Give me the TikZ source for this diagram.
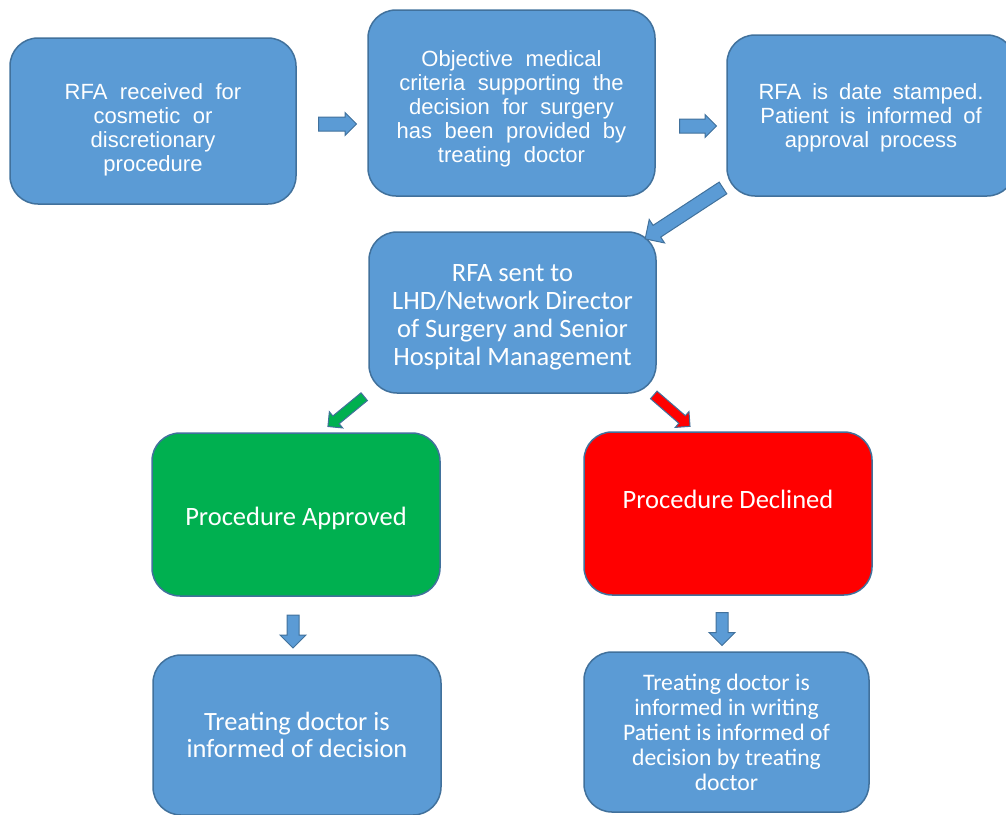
\documentclass[tikz,border=0pt]{standalone}
\usepackage{fontspec}
\setmainfont{Liberation Sans}
\newfontfamily\calibri{Carlito}
\usetikzlibrary{shapes.arrows}

\definecolor{boxblue}{HTML}{5B9BD5}
\definecolor{boxline}{HTML}{41719C}
\definecolor{okgreen}{HTML}{00B050}
\definecolor{nored}{HTML}{FF0000}

\newcommand{\toprowfont}[1]{\fontsize{22}{24}\selectfont\spaceskip=#1\relax}

\tikzset{
  stage/.style={draw=boxline, line width=1.5pt, fill=boxblue, rounded corners=28pt,
    text=white, align=center, inner sep=0pt},
  blockarr/.style={single arrow, draw=boxline, line width=1pt, fill=boxblue,
    inner xsep=0pt, single arrow head indent=0pt}
}

\begin{document}
\begin{tikzpicture}[x=1pt,y=-1pt]
    \useasboundingbox (0,0) rectangle (1006,814);
    \clip (0,0) rectangle (1006,814);

    \node[stage, minimum width=286pt, minimum height=166pt, font={\toprowfont{12.5pt}},
      text height=106pt] (rfa) at (153,121)
      {RFA received for\\cosmetic or\\discretionary\\procedure};
    \node[stage, minimum width=287pt, minimum height=186pt, font={\toprowfont{12.5pt}},
      text height=124pt] (criteria) at (511.5,103)
      {Objective medical\\criteria supporting the\\decision for surgery\\has been provided by\\treating doctor};
    \node[stage, minimum width=288pt, minimum height=161pt, font={\toprowfont{11pt}},
      text height=69pt] (stamp) at (871,115.5)
      {RFA is date stamped.\\Patient is informed of\\approval process};

    \node[stage, minimum width=287pt, minimum height=161pt, font=\calibri\fontsize{26.5}{28}\selectfont,
      text height=110pt] (sent) at (512.5,312.5)
      {RFA sent to\\LHD/Network Director\\of Surgery and Senior\\Hospital Management};

    \node[stage, fill=okgreen, minimum width=288pt, minimum height=163pt, font=\calibri\fontsize{26.5}{28}\selectfont,
      text height=27pt] (approved) at (296,514.5)
      {Procedure Approved};
    \node[stage, fill=nored, minimum width=288pt, minimum height=163pt, font=\calibri\fontsize{26.5}{28}\selectfont,
      text depth=28pt] (declined) at (728,513.5)
      {Procedure Declined};

    \node[stage, minimum width=288pt, minimum height=160pt, font=\calibri\fontsize{26.4}{27}\selectfont] (toldok) at (297,735)
      {Treating doctor is\\informed of decision};
    \node[stage, minimum width=285pt, minimum height=160pt, font=\calibri\fontsize{23.7}{25}\selectfont] (toldall) at (726.5,732)
      {Treating doctor is\\informed in writing\\Patient is informed of\\decision by treating\\doctor};

    \node[blockarr, inner ysep=6.5pt, single arrow head extend=4.5pt, minimum height=38pt] (arr1) at (334,124) {};
    \node[blockarr, inner ysep=6.5pt, single arrow head extend=4.5pt, minimum height=37pt] (arr2) at (694.5,126) {};
    \node[blockarr, inner ysep=6.5pt, single arrow head extend=7pt, minimum height=93pt, rotate=213.2] (arr3) at (687,211.5) {};
    \node[blockarr, fill=okgreen, inner ysep=4.5pt, single arrow head extend=5.5pt, minimum height=47pt, rotate=219.4] (arr4) at (348,410) {};
    \node[blockarr, fill=nored, inner ysep=4.5pt, single arrow head extend=5.5pt, minimum height=48pt, rotate=-40.9] (arr5) at (670,409) {};
    \node[blockarr, inner ysep=5.5pt, single arrow head extend=7pt, minimum height=33pt, rotate=-90] (arr6) at (293,628.5) {};
    \node[blockarr, inner ysep=5.5pt, single arrow head extend=7pt, minimum height=33pt, rotate=-90] (arr7) at (722,626) {};

\end{tikzpicture}
\end{document}
